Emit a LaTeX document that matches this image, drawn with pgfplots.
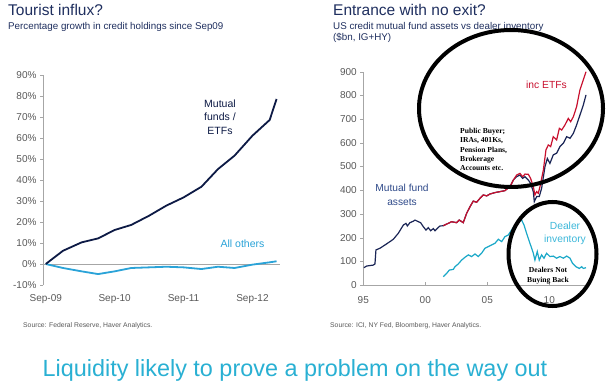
\documentclass[border=0pt]{standalone}
\usepackage{fontspec}
\setmainfont{Liberation Sans}
\newfontfamily\serifb{Liberation Serif}
\usepackage{pgfplots}
\pgfplotsset{compat=1.18}
\definecolor{titlenavy}{HTML}{1F2F5F}
\definecolor{darkline}{HTML}{0D1A45}
\definecolor{lightline}{HTML}{2AA3D8}
\definecolor{rnavy}{HTML}{1A2556}
\definecolor{rred}{HTML}{C8102E}
\definecolor{dealer}{HTML}{1AA8C8}
\definecolor{labcyan}{HTML}{3DB8DA}
\definecolor{botcyan}{HTML}{29B0D3}
\definecolor{tickgray}{HTML}{595959}
\definecolor{mfnavy}{HTML}{2F4A8A}
\begin{document}
\begin{tikzpicture}[x=1pt,y=1pt]
\path[fill=white] (0,0) rectangle (607,-387);
% ---------- left chart ----------
\begin{axis}[at={(43pt,-285pt)}, anchor=south west, scale only axis,
  width=237pt, height=210pt, xmin=-0.04, xmax=3.4, ymin=-10, ymax=90,
  axis lines*=left, x axis line style={draw=none}, y axis line style={gray!70},
  ytick={-10,0,10,20,30,40,50,60,70,80,90},
  yticklabel={\pgfmathprintnumber{\tick}\%},
  xtick={0,1,2,3}, xticklabels={Sep-09,Sep-10,Sep-11,Sep-12},
  tick label style={font=\fontsize{10}{12}\selectfont, text=tickgray},
  x tick label style={yshift=-3pt},
  /pgf/number format/assume math mode=true,
  tick align=outside, major tick length=3pt,
  ytick style={gray!70}, xtick style={draw=none},
  extra y ticks={0}, extra y tick labels={},
  extra y tick style={grid=major, major grid style={gray!70, line width=0.6pt}},
  clip=false]
\addplot[lightline, line width=1.8pt] coordinates {
(0,0) (0.25,-1.9) (0.52,-3.5) (0.76,-4.8) (1.0,-3.5) (1.24,-1.9) (1.5,-1.6)
(1.75,-1.3) (2.0,-1.6) (2.26,-2.4) (2.5,-1.3) (2.74,-1.9) (3.0,-0.3) (3.25,0.8) (3.35,1.3)};
\addplot[darkline, line width=1.8pt] coordinates {
(0,0) (0.25,6.3) (0.52,10.3) (0.76,12.2) (1.0,16.2) (1.24,18.6) (1.5,23)
(1.75,27.8) (2.0,31.7) (2.26,36.8) (2.5,45.2) (2.74,51.6) (3.0,61.1) (3.25,68.6) (3.35,78.6)};
\end{axis}
% ---------- right chart ----------
\begin{axis}[at={(363.3pt,-285pt)}, anchor=south west, scale only axis,
  width=223.2pt, height=213.3pt, xmin=1995, xmax=2013, ymin=0, ymax=900,
  axis lines*=left, axis line style={gray!70},
  ytick={0,100,...,900},
  xtick={1995,2000,2005,2010}, xticklabels={95,00,05,10},
  tick label style={font=\fontsize{10}{12}\selectfont, text=tickgray},
  x tick label style={yshift=-5pt},
  /pgf/number format/assume math mode=true,
  tick align=outside, major tick length=3pt,
  ytick style={gray!70}, xtick style={gray!70, yshift=3pt},
  clip=false]
\addplot[rnavy, line width=1.2pt] coordinates {
(1995.05,73) (1995.27,80) (1995.81,84) (1995.94,89) (1996.02,148) (1996.34,155)
(1996.75,169) (1997.15,183) (1997.42,193) (1997.82,218) (1998.23,253) (1998.44,260)
(1998.55,249) (1998.76,263) (1999.03,269) (1999.17,274) (1999.44,267) (1999.62,263)
(1999.84,246) (2000.05,232) (2000.24,242) (2000.43,229) (2000.65,238) (2000.78,229)
(2000.97,239) (2001.18,249) (2001.45,250)
(2001.72,257) (2002.12,267) (2002.53,263) (2002.74,274) (2003.06,263) (2003.33,302)
(2003.60,330) (2003.87,354) (2004.14,349) (2004.41,366) (2004.68,380) (2004.95,376)
(2005.22,384) (2005.62,390) (2006.02,394) (2006.42,398) (2006.83,415) (2007.10,443)
(2007.37,457) (2007.63,464) (2007.85,450) (2008.04,457) (2008.31,443) (2008.49,429)
(2008.71,394) (2008.79,352) (2008.98,373) (2009.19,373) (2009.38,408) (2009.65,499)
(2009.84,534) (2010.05,513) (2010.32,549) (2010.59,556) (2010.86,584) (2011.13,598)
(2011.40,626) (2011.67,619) (2011.94,640) (2012.20,675) (2012.47,717) (2012.74,759)
(2012.96,802)};
\addplot[rred, line width=1.2pt] coordinates {
(2001.45,250) (2001.72,257) (2002.12,267) (2002.53,263) (2002.74,274) (2003.06,263)
(2003.33,302) (2003.60,330) (2003.87,354) (2004.14,349) (2004.41,366) (2004.68,380)
(2004.95,376) (2005.22,384) (2005.62,390) (2006.02,394) (2006.42,398) (2006.83,415)
(2007.10,443) (2007.37,464) (2007.63,471) (2007.85,457) (2008.04,468) (2008.31,467)
(2008.49,450) (2008.71,415) (2008.84,380) (2008.98,394) (2009.11,387) (2009.25,415)
(2009.52,485) (2009.73,570) (2009.92,591) (2010.11,584) (2010.32,626) (2010.59,612)
(2010.81,661) (2011.00,654) (2011.26,675) (2011.53,703) (2011.72,689) (2011.94,710)
(2012.20,752) (2012.47,823) (2012.74,865) (2012.96,900)};
\addplot[dealer, line width=1.2pt] coordinates {
(2001.45,35) (2001.72,49) (2001.94,63) (2002.26,66) (2002.39,77) (2002.66,89)
(2002.93,105) (2003.20,117) (2003.47,127) (2003.74,120) (2004.01,131) (2004.27,120)
(2004.54,134) (2004.81,155) (2005.08,162) (2005.35,169) (2005.62,176) (2005.89,193)
(2006.16,183) (2006.42,204) (2006.69,211) (2006.96,232) (2007.23,253) (2007.50,267)
(2007.77,274) (2007.96,253) (2008.17,218) (2008.39,183) (2008.58,155) (2008.71,134)
(2008.84,105) (2009.03,141) (2009.19,105) (2009.38,127) (2009.57,113) (2009.78,134)
(2010.05,120) (2010.32,122) (2010.59,113) (2010.86,120) (2011.13,113) (2011.40,122)
(2011.67,113) (2011.88,91) (2012.15,77) (2012.42,70) (2012.61,77) (2012.74,70) (2012.96,73)};
\end{axis}
% ---------- titles ----------
\node[anchor=base west, inner sep=0, text=titlenavy, font=\fontsize{15.5}{18}\selectfont] at (8,-16) {Tourist influx?};
\node[anchor=base west, inner sep=0, text=titlenavy, font=\fontsize{9.8}{12}\selectfont] at (8,-29.3) {Percentage growth in credit holdings since Sep09};
\node[anchor=base west, inner sep=0, text=titlenavy, font=\fontsize{15.5}{18}\selectfont] at (333,-16) {Entrance with no exit?};
\node[anchor=base west, inner sep=0, text=titlenavy, font=\fontsize{9.8}{12}\selectfont] at (333,-30) {US credit mutual fund assets vs dealer inventory};
\node[anchor=base west, inner sep=0, text=titlenavy, font=\fontsize{9.8}{12}\selectfont] at (333,-40.5) {(\$bn, IG+HY)};
% ---------- in-chart labels ----------
\node[align=center, inner sep=0, text=darkline, font=\fontsize{10.5}{13.5}\selectfont] at (220,-117) {Mutual\\funds /\\ETFs};
\node[inner sep=0, text=lightline, font=\fontsize{10.5}{12}\selectfont] at (242.5,-244) {All others};
\node[align=center, inner sep=0, text=mfnavy, font=\fontsize{10.2}{14}\selectfont] at (402,-194.7) {Mutual fund\\assets};
\node[inner sep=0, text=rred, font=\fontsize{10.3}{12}\selectfont] at (546.5,-85) {inc ETFs};
\node[align=center, inner sep=0, text=labcyan, font=\fontsize{10.3}{13.3}\selectfont] at (565,-233.4) {Dealer\\inventory};
\node[anchor=base west, inner sep=0, font=\serifb\bfseries\fontsize{7.6}{9}\selectfont] at (460,-133.5) {Public Buyer;};
\node[anchor=base west, inner sep=0, font=\serifb\bfseries\fontsize{7.6}{9}\selectfont] at (460,-142.8) {IRAs, 401Ks,};
\node[anchor=base west, inner sep=0, font=\serifb\bfseries\fontsize{7.6}{9}\selectfont] at (460,-152.1) {Pension Plans,};
\node[anchor=base west, inner sep=0, font=\serifb\bfseries\fontsize{7.6}{9}\selectfont] at (460,-161.7) {Brokerage};
\node[anchor=base west, inner sep=0, font=\serifb\bfseries\fontsize{7.6}{9}\selectfont] at (460,-171) {Accounts etc.};
\node[anchor=base, inner sep=0, font=\serifb\bfseries\fontsize{7.6}{9}\selectfont] at (548,-272.5) {Dealers Not};
\node[anchor=base, inner sep=0, font=\serifb\bfseries\fontsize{7.6}{9}\selectfont] at (548,-282) {Buying Back};
% ---------- ellipses ----------
\draw[line width=4pt] (511,-108.5) ellipse [x radius=92, y radius=78.5];
\draw[line width=4pt] (552.5,-254) ellipse [x radius=44, y radius=52];
% ---------- sources & footer ----------
\node[anchor=base west, inner sep=0, text=tickgray, font=\fontsize{6.8}{8}\selectfont] at (23,-327) {Source: Federal Reserve, Haver Analytics.};
\node[anchor=base west, inner sep=0, text=tickgray, font=\fontsize{6.8}{8}\selectfont] at (330,-327) {Source: ICI, NY Fed, Bloomberg, Haver Analytics.};
\node[anchor=base, inner sep=0, text=botcyan, font=\fontsize{23.4}{28}\selectfont] at (295,-376) {Liquidity likely to prove a problem on the way out};
\end{tikzpicture}
\end{document}
